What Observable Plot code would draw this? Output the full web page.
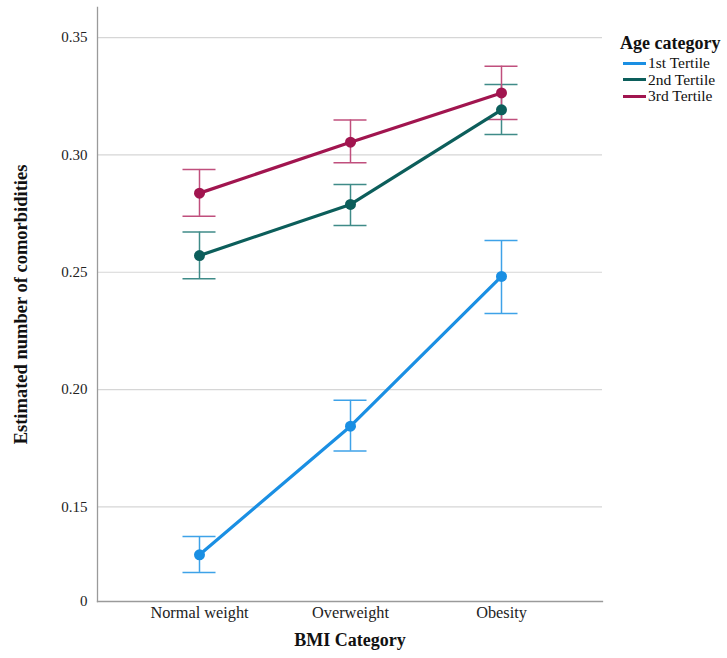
<!DOCTYPE html>
<html>
<head>
<meta charset="utf-8">
<script src="https://cdn.jsdelivr.net/npm/d3@7"></script>
<script src="https://cdn.jsdelivr.net/npm/@observablehq/plot@0.6"></script>
<style>
  html, body { margin: 0; padding: 0; background: #fff; }
  #wrap { position: relative; width: 727px; height: 658px; font-family: "Liberation Serif", serif; }
  #legend { position: absolute; left: 620px; top: 31px; color: #111; }
  #legend .title { font-weight: bold; font-size: 18px; line-height: 24px; }
  #legend .row { display: flex; align-items: center; font-size: 15.5px; line-height: 16.5px; margin-left: 3px; }
  #legend .sw { width: 23px; height: 3px; margin-right: 2px; }
</style>
</head>
<body>
<div id="wrap"><div id="chart"></div><div id="legend"></div></div>
<script>
const categories = ["Normal weight", "Overweight", "Obesity"];
const series = ["1st Tertile", "2nd Tertile", "3rd Tertile"];
const est1 = [0.1296, 0.1844, 0.2482];
const low1 = [0.1221, 0.1738, 0.2324];
const high1 = [0.1374, 0.1954, 0.2635];
const est2 = [0.2571, 0.2789, 0.3192];
const low2 = [0.2472, 0.2699, 0.3087];
const high2 = [0.2671, 0.2874, 0.3300];
const est3 = [0.2837, 0.3054, 0.3264];
const low3 = [0.2738, 0.2966, 0.3151];
const high3 = [0.2938, 0.3149, 0.3378];
const yTicks = [0.1097, 0.15, 0.20, 0.25, 0.30, 0.35];
const yTickLabels = ["0", "0.15", "0.20", "0.25", "0.30", "0.35"];
const gridValues = [0.15, 0.20, 0.25, 0.30, 0.35];
const lineColors = ["#1a8fe3", "#0c5e5b", "#a1154f"];
const barColors = ["#3ea2e8", "#3f8b88", "#c04f7d"];
const yLabel = "Estimated number of comorbidities";
const xLabel = "BMI Category";
const legendTitle = "Age category";

const seriesData = [
  {est: est1, low: low1, high: high1},
  {est: est2, low: low2, high: high2},
  {est: est3, low: low3, high: high3}
].map((s, k) => categories.map((c, i) => ({cat: c, series: series[k], est: s.est[i], low: s.low[i], high: s.high[i]})));

const marks = [
  Plot.ruleY(gridValues, {stroke: "#d6d6d6", strokeWidth: 1.2}),
  Plot.frame({anchor: "left", stroke: "#9a9a9a", strokeWidth: 1.3}),
  Plot.frame({anchor: "bottom", stroke: "#9a9a9a", strokeWidth: 1.3}),
  Plot.axisY({ticks: yTicks, tickFormat: d => yTickLabels[yTicks.indexOf(d)], tickSize: 0, tickPadding: 10, label: null, fontSize: 15, fill: "#222"}),
  Plot.axisX({tickSize: 0, tickPadding: 5, label: null, fontSize: 16.3, fill: "#222"}),
  Plot.text([yLabel], {frameAnchor: "left", textAnchor: "middle", dx: -76, rotate: -90, fontWeight: "bold", fontSize: 18.5, fill: "#111"}),
  Plot.text([xLabel], {frameAnchor: "bottom", textAnchor: "middle", dy: 44, fontWeight: "bold", fontSize: 18, fill: "#111"})
];

seriesData.forEach((rows, k) => {
  marks.push(
    Plot.ruleX(rows, {x: "cat", y1: "low", y2: "high", stroke: barColors[k], strokeWidth: 1.5}),
    Plot.ruleY(rows, {x1: "cat", x2: "cat", y: "low", stroke: barColors[k], strokeWidth: 1.5, insetLeft: -16.5, insetRight: -16.5}),
    Plot.ruleY(rows, {x1: "cat", x2: "cat", y: "high", stroke: barColors[k], strokeWidth: 1.5, insetLeft: -16.5, insetRight: -16.5})
  );
});
seriesData.forEach((rows, k) => {
  marks.push(
    Plot.line(rows, {x: "cat", y: "est", stroke: lineColors[k], strokeWidth: 3.2}),
    Plot.dot(rows, {x: "cat", y: "est", fill: lineColors[k], r: 5.5})
  );
});

const chart = Plot.plot({
  width: 727,
  height: 658,
  marginLeft: 97,
  marginRight: 125,
  marginTop: 7,
  marginBottom: 57,
  style: {fontFamily: "'Liberation Serif', serif", fontSize: "15px", background: "#fff"},
  x: {type: "point", domain: categories, padding: 0.664},
  y: {domain: [0.1097, 0.3628]},
  marks
});
document.getElementById("chart").appendChild(chart);

const legend = document.getElementById("legend");
const t = document.createElement("div");
t.className = "title";
t.textContent = legendTitle;
legend.appendChild(t);
series.forEach((s, k) => {
  const row = document.createElement("div");
  row.className = "row";
  const sw = document.createElement("span");
  sw.className = "sw";
  sw.style.background = lineColors[k];
  const lab = document.createElement("span");
  lab.textContent = s;
  row.appendChild(sw);
  row.appendChild(lab);
  legend.appendChild(row);
});
</script>
</body>
</html>
